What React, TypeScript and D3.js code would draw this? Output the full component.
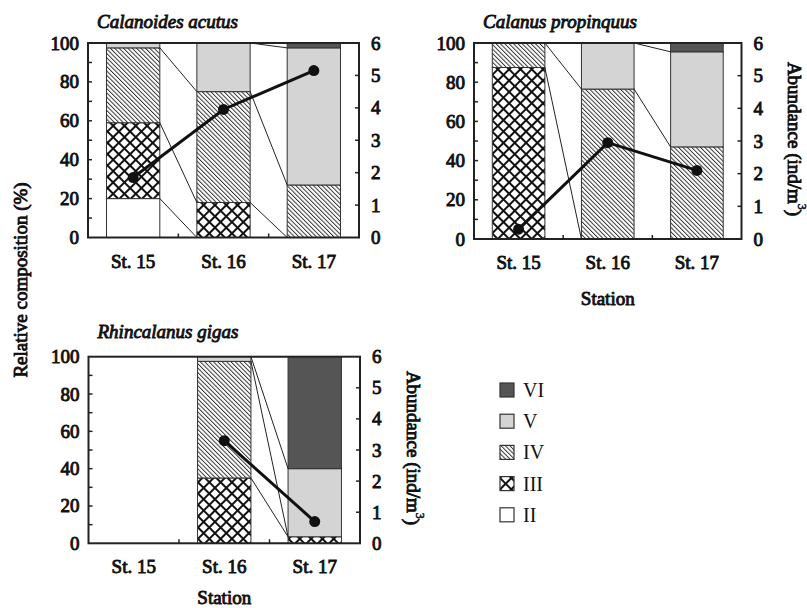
import React from "react";
import * as d3 from "d3";

const stations = ["St. 15", "St. 16", "St. 17"];
const stages = ["II", "III", "IV", "V", "VI"];
const pctTicks = [0, 20, 40, 60, 80, 100];
const pctMinor = [10, 20, 30, 40, 50, 60, 70, 80, 90];
const abundanceTicks = [0, 1, 2, 3, 4, 5, 6];

// Calanoides acutus (% of each copepodite stage)
const acutusII = [20, 0, 0];
const acutusIII = [39, 18, 0];
const acutusIV = [38.5, 57, 27];
const acutusV = [2.5, 25, 70.5];
const acutusVI = [0, 0, 2.5];
const acutusAbundance = [1.85, 3.95, 5.15];

// Calanus propinquus
const propinquusII = [0, 0, 0];
const propinquusIII = [87.5, 0, 0];
const propinquusIV = [12.5, 76.5, 47];
const propinquusV = [0, 23.5, 48.5];
const propinquusVI = [0, 0, 4.5];
const propinquusAbundance = [0.3, 2.95, 2.1];

// Rhincalanus gigas (none at St. 15)
const gigasII = [null, 0, 0];
const gigasIII = [null, 35, 3.5];
const gigasIV = [null, 62.5, 0];
const gigasV = [null, 2.5, 36.5];
const gigasVI = [null, 0, 60];
const gigasAbundance = [null, 3.3, 0.7];

const fills: Record<string, string> = {
  II: "#ffffff",
  III: "url(#hatchIII)",
  IV: "url(#hatchIV)",
  V: "#d4d4d4",
  VI: "#555555",
};

const FONT = "Liberation Serif, Times New Roman, serif";
// bold drawn as regular serif with a thin outline (bold face isn't available)
const bold = { fontFamily: FONT, fontSize: 19, stroke: "#111", strokeWidth: 0.9, fill: "#111" };

type PanelProps = {
  title: string;
  titleY: number;
  layers: (number | null)[][];
  abundance: (number | null)[];
  box: { left: number; right: number; top: number; bottom: number };
  stationTitle?: boolean;
  rightTitle?: boolean;
};

function Panel({ title, titleY, layers, abundance, box, stationTitle, rightTitle }: PanelProps) {
  const x = d3
    .scaleBand()
    .domain(stations)
    .range([box.left, box.right])
    .paddingInner(0.41)
    .paddingOuter(0.205);
  const y = d3.scaleLinear().domain([0, 100]).range([box.bottom, box.top]);
  const yr = d3.scaleLinear().domain([0, 6]).range([box.bottom, box.top]);
  const bw = x.bandwidth();

  const present = abundance.map((a) => a != null);
  const rows = stations.map((s, i) => {
    const r: any = { station: s };
    stages.forEach((st, k) => (r[st] = layers[k][i] ?? 0));
    return r;
  });
  const stacked = d3.stack<any>().keys(stages)(rows);

  // series lines joining layer tops of neighbouring bars
  const seriesLines: { x1: number; y1: number; x2: number; y2: number }[] = [];
  stacked.forEach((layer) => {
    for (let i = 0; i < stations.length - 1; i++) {
      if (!present[i] || !present[i + 1]) continue;
      seriesLines.push({
        x1: x(stations[i])! + bw,
        y1: y(layer[i][1]),
        x2: x(stations[i + 1])!,
        y2: y(layer[i + 1][1]),
      });
    }
  });

  const pts = stations
    .map((s, i) => ({ s, v: abundance[i] }))
    .filter((d) => d.v != null) as { s: string; v: number }[];
  const line = d3
    .line<{ s: string; v: number }>()
    .x((d) => x(d.s)! + bw / 2)
    .y((d) => yr(d.v));

  const midX = (box.left + box.right) / 2;

  return (
    <g>
      <text x={box.left + 9} y={titleY} {...bold} fontStyle="italic">
        {title}
      </text>
      {stacked.map((layer) => (
        <g key={layer.key}>
          {layer.map((d, i) =>
            present[i] && d[1] > d[0] ? (
              <rect
                key={i}
                x={x(stations[i])}
                y={y(d[1])}
                width={bw}
                height={y(d[0]) - y(d[1])}
                fill={fills[layer.key]}
                stroke="#333"
                strokeWidth={1}
              />
            ) : null
          )}
        </g>
      ))}
      {seriesLines.map((l, i) => (
        <line key={i} {...l} stroke="#222" strokeWidth={1} />
      ))}
      <rect
        x={box.left}
        y={box.top}
        width={box.right - box.left}
        height={box.bottom - box.top}
        fill="none"
        stroke="#222"
        strokeWidth={2}
      />
      {pctMinor.map((t) => (
        <line key={"l" + t} x1={box.left} x2={box.left + 4} y1={y(t)} y2={y(t)} stroke="#222" strokeWidth={1.5} />
      ))}
      {abundanceTicks.slice(1, -1).map((t) => (
        <line key={"r" + t} x1={box.right} x2={box.right - 4} y1={yr(t)} y2={yr(t)} stroke="#222" strokeWidth={1.5} />
      ))}
      {stations.slice(1).map((s) => (
        <line
          key={"b" + s}
          x1={x(s)! - (x.step() - bw) / 2}
          x2={x(s)! - (x.step() - bw) / 2}
          y1={box.bottom}
          y2={box.bottom - 4}
          stroke="#222"
          strokeWidth={1.5}
        />
      ))}
      {pctTicks.map((t) => (
        <text key={"pl" + t} x={box.left - 9} y={y(t)} textAnchor="end" dominantBaseline="central" {...bold}>
          {t}
        </text>
      ))}
      {abundanceTicks.map((t) => (
        <text key={"al" + t} x={box.right + 12} y={yr(t)} dominantBaseline="central" {...bold}>
          {t}
        </text>
      ))}
      {stations.map((s) => (
        <text key={"st" + s} x={x(s)! + bw / 2} y={box.bottom + 30} textAnchor="middle" {...bold}>
          {s}
        </text>
      ))}
      <path d={line(pts) ?? ""} fill="none" stroke="#111" strokeWidth={3} />
      {pts.map((d) => (
        <circle key={d.s} cx={x(d.s)! + bw / 2} cy={yr(d.v)} r={5.5} fill="#111" />
      ))}
      {stationTitle && (
        <text x={midX} y={Math.min(box.bottom + 66, 604)} textAnchor="middle" {...bold}>
          Station
        </text>
      )}
      {rightTitle && (
        <text
          transform={`translate(${box.right + 53},${(box.top + box.bottom) / 2 - 2}) rotate(90)`}
          textAnchor="middle"
          dominantBaseline="central"
          {...bold}
        >
          Abundance (ind/m<tspan dy={-7} fontSize={12} strokeWidth={0.5}>3</tspan>
          <tspan dy={7}>)</tspan>
        </text>
      )}
    </g>
  );
}

const legendOrder = ["VI", "V", "IV", "III", "II"];

export default function App() {
  return (
    <svg width={807} height={608} style={{ position: "absolute", left: 0, top: 0, background: "#fff" }}>
      <defs>
        <pattern id="hatchIV" patternUnits="userSpaceOnUse" width={3.1} height={10} patternTransform="rotate(-45)">
          <rect width={3.1} height={10} fill="#fff" />
          <line x1={0.5} y1={0} x2={0.5} y2={10} stroke="#222" strokeWidth={0.9} />
        </pattern>
        <pattern id="hatchIII" patternUnits="userSpaceOnUse" width={8} height={8} patternTransform="rotate(45)">
          <rect width={8} height={8} fill="#fff" />
          <line x1={1} y1={0} x2={1} y2={8} stroke="#111" strokeWidth={2} />
          <line x1={0} y1={1} x2={8} y2={1} stroke="#111" strokeWidth={2} />
        </pattern>
      </defs>
      <Panel
        title="Calanoides acutus"
        titleY={28}
        layers={[acutusII, acutusIII, acutusIV, acutusV, acutusVI]}
        abundance={acutusAbundance}
        box={{ left: 88, right: 359, top: 43, bottom: 237.5 }}
      />
      <Panel
        title="Calanus propinquus"
        titleY={28}
        layers={[propinquusII, propinquusIII, propinquusIV, propinquusV, propinquusVI]}
        abundance={propinquusAbundance}
        box={{ left: 474, right: 741.5, top: 43, bottom: 239 }}
        stationTitle
        rightTitle
      />
      <Panel
        title="Rhincalanus gigas"
        titleY={338}
        layers={[gigasII, gigasIII, gigasIV, gigasV, gigasVI]}
        abundance={gigasAbundance}
        box={{ left: 88.5, right: 360, top: 356.7, bottom: 543.3 }}
        stationTitle
        rightTitle
      />
      <text transform="translate(20,280) rotate(-90)" textAnchor="middle" dominantBaseline="central" {...bold}>
        Relative composition (%)
      </text>
      {legendOrder.map((st, i) => (
        <g key={st} transform={`translate(500,${383 + i * 31.2})`}>
          <rect width={14} height={14} fill={fills[st]} stroke="#333" strokeWidth={1.2} />
          <text x={23} y={7} dominantBaseline="central" fontFamily={FONT} fontSize={20} fill="#111">
            {st}
          </text>
        </g>
      ))}
    </svg>
  );
}
